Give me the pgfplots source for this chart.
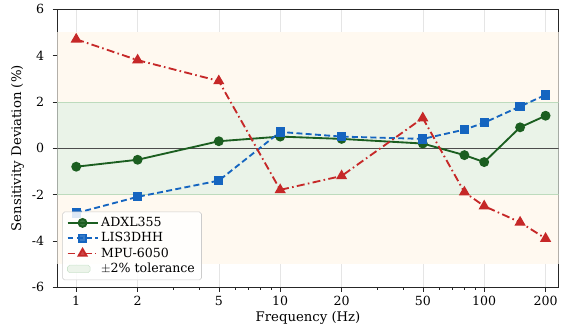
\documentclass[border=0pt]{standalone}
\usepackage{pgfplots}
\pgfplotsset{compat=1.18}
\usepackage{fontspec}
\setmainfont{DejaVu Serif}
\definecolor{cgreen}{HTML}{1B5E20}
\definecolor{cblue}{HTML}{1565C0}
\definecolor{cred}{HTML}{C62828}
\definecolor{bandgreen}{HTML}{EAF3E8}
\definecolor{bandorange}{HTML}{FFF9F0}
\begin{document}
\begin{tikzpicture}
\begin{axis}[
  scale only axis,
  width=378.75pt, height=210pt,
  xmode=log,
  xmin=0.808, xmax=232,
  ymin=-6, ymax=6,
  xtick={1,2,5,10,20,50,100,200},
  xticklabels={1,2,5,10,20,50,100,200},
  ytick={-6,-4,-2,0,2,4,6},
  minor xtick={3,4,6,7,8,9,30,40,60,70,80,90},
  grid=major,
  major grid style={gray!20, line width=0.4pt},
  axis line style={line width=0.8pt, black!85},
  tick style={black!85},
  major tick length=3.5pt, minor tick length=2pt,
  tick align=outside,
  xtick pos=bottom, ytick pos=left,
  ticklabel style={font=\fontsize{9.5}{11}\selectfont},
  yticklabel style={xshift=-3pt},
  /pgf/number format/assume math mode=true,
  xlabel={Frequency (Hz)},
  ylabel={Sensitivity Deviation (\%)},
  label style={font=\fontsize{10}{12}\selectfont},
  xlabel style={yshift=3pt},
  ylabel style={yshift=-1pt},
  legend cell align=left,
  legend image code/.code={\draw[mark repeat=2,mark phase=2] plot coordinates {(0cm,0cm) (0.4cm,0cm) (0.8cm,0cm)};},
  legend style={font=\fontsize{9.5}{11}\selectfont, draw=black!20, rounded corners=1.5pt, fill=white, fill opacity=0.85, text opacity=1, at={(0.01,0.025)}, anchor=south west, row sep=-1pt},
  clip=true,
]
% bands
\addplot[draw=none, fill=bandorange, forget plot] coordinates {(0.5,2) (500,2) (500,5) (0.5,5)} -- cycle;
\addplot[draw=none, fill=bandorange, forget plot] coordinates {(0.5,-5) (500,-5) (500,-2) (0.5,-2)} -- cycle;
\addplot[draw=none, fill=bandgreen, forget plot] coordinates {(0.5,-2) (500,-2) (500,2) (0.5,2)} -- cycle;
\addplot[draw=green!30!gray!40, line width=0.4pt, forget plot] coordinates {(0.5,2) (500,2)};
\addplot[draw=green!30!gray!40, line width=0.4pt, forget plot] coordinates {(0.5,-2) (500,-2)};
\addplot[draw=black!70, line width=0.7pt, forget plot] coordinates {(0.5,0) (500,0)};

\addplot[cgreen, line width=1.4pt, mark=*, mark size=3pt, mark options={solid, fill=cgreen}] coordinates {
(1,-0.8) (2,-0.5) (5,0.3) (10,0.5) (20,0.4) (50,0.2) (80,-0.3) (100,-0.6) (150,0.9) (200,1.4)};
\addlegendentry{ADXL355}
\addplot[cblue, line width=1.4pt, dash pattern=on 4.5pt off 2.5pt, mark=square*, mark size=2.8pt, mark options={solid, fill=cblue}] coordinates {
(1,-2.8) (2,-2.1) (5,-1.4) (10,0.7) (20,0.5) (50,0.4) (80,0.8) (100,1.1) (150,1.8) (200,2.3)};
\addlegendentry{LIS3DHH}
\addplot[cred, line width=1.4pt, dash pattern=on 6pt off 2.5pt on 1.2pt off 2.5pt, mark=triangle*, mark size=3.5pt, mark options={solid, fill=cred}] coordinates {
(1,4.7) (2,3.8) (5,2.9) (10,-1.8) (20,-1.2) (50,1.3) (80,-1.9) (100,-2.5) (150,-3.2) (200,-3.9)};
\addlegendentry{MPU-6050}
\addlegendimage{area legend, draw=green!30!gray!30, fill=bandgreen}
\addlegendentry{$\pm$2\% tolerance}
\end{axis}
\path ([xshift=-5pt]current axis.outer west) -- (current axis.outer east);
\end{tikzpicture}
\end{document}
